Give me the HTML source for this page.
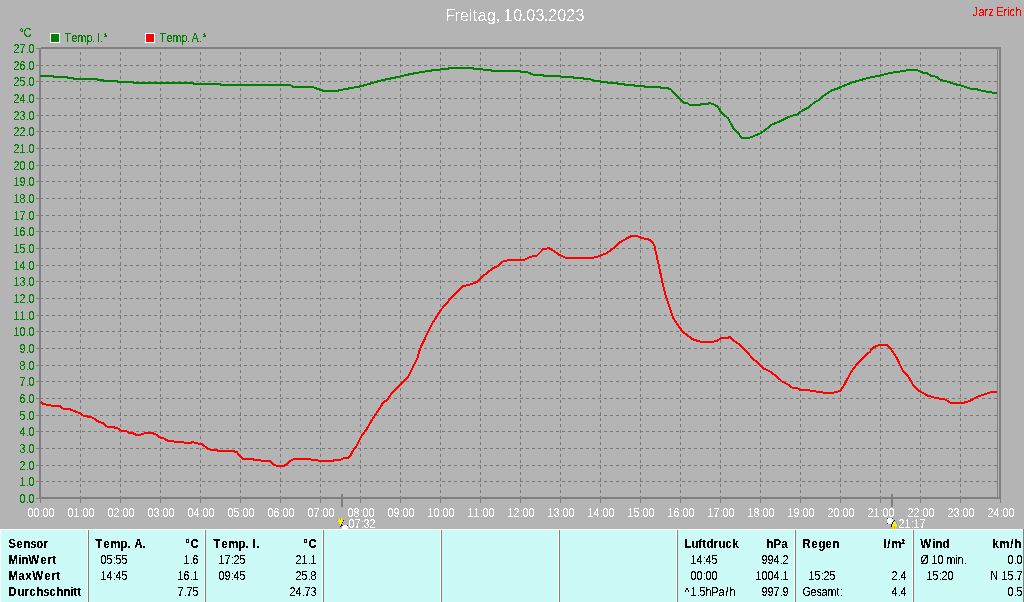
<!DOCTYPE html>
<html lang="de"><head><meta charset="utf-8"><title>Freitag, 10.03.2023</title>
<style>
html,body{margin:0;padding:0;background:#b4b4b4;overflow:hidden}
svg{display:block;position:absolute;left:0;top:0}
text{font-family:"Liberation Sans",sans-serif;font-size:12.5px}
.b{font-weight:bold}
.w{fill:#fff}.g{fill:#008000}.k{fill:#000}.r{fill:#f00}
.e{text-anchor:end}.m{text-anchor:middle}
</style></head><body>
<svg width="1024" height="602" viewBox="0 0 1024 602">
<defs><filter id="na" x="0" y="0" width="100%" height="100%" filterUnits="userSpaceOnUse" primitiveUnits="userSpaceOnUse" color-interpolation-filters="sRGB"><feComponentTransfer><feFuncA type="discrete" tableValues="0 0 1 1 1"/></feComponentTransfer></filter><filter id="nb" x="0" y="0" width="100%" height="100%" filterUnits="userSpaceOnUse" primitiveUnits="userSpaceOnUse" color-interpolation-filters="sRGB"><feComponentTransfer><feFuncA type="discrete" tableValues="0 0 0 0 0 1 1 1 1 1"/></feComponentTransfer></filter></defs>
<rect x="0" y="0" width="1024" height="602" fill="#b4b4b4"/>
<g shape-rendering="crispEdges" stroke="#787878" stroke-width="1" fill="none" stroke-dasharray="3 3">
<line x1="40" y1="481.5" x2="997" y2="481.5"/>
<line x1="40" y1="465.5" x2="997" y2="465.5"/>
<line x1="40" y1="448.5" x2="997" y2="448.5"/>
<line x1="40" y1="431.5" x2="997" y2="431.5"/>
<line x1="40" y1="415.5" x2="997" y2="415.5"/>
<line x1="40" y1="398.5" x2="997" y2="398.5"/>
<line x1="40" y1="381.5" x2="997" y2="381.5"/>
<line x1="40" y1="365.5" x2="997" y2="365.5"/>
<line x1="40" y1="348.5" x2="997" y2="348.5"/>
<line x1="40" y1="331.5" x2="997" y2="331.5"/>
<line x1="40" y1="315.5" x2="997" y2="315.5"/>
<line x1="40" y1="298.5" x2="997" y2="298.5"/>
<line x1="40" y1="281.5" x2="997" y2="281.5"/>
<line x1="40" y1="265.5" x2="997" y2="265.5"/>
<line x1="40" y1="248.5" x2="997" y2="248.5"/>
<line x1="40" y1="231.5" x2="997" y2="231.5"/>
<line x1="40" y1="215.5" x2="997" y2="215.5"/>
<line x1="40" y1="198.5" x2="997" y2="198.5"/>
<line x1="40" y1="181.5" x2="997" y2="181.5"/>
<line x1="40" y1="165.5" x2="997" y2="165.5"/>
<line x1="40" y1="148.5" x2="997" y2="148.5"/>
<line x1="40" y1="131.5" x2="997" y2="131.5"/>
<line x1="40" y1="115.5" x2="997" y2="115.5"/>
<line x1="40" y1="98.5" x2="997" y2="98.5"/>
<line x1="40" y1="81.5" x2="997" y2="81.5"/>
<line x1="40" y1="65.5" x2="997" y2="65.5"/>
<line x1="80.5" y1="49" x2="80.5" y2="497" stroke-dashoffset="3"/>
<line x1="120.5" y1="49" x2="120.5" y2="497" stroke-dashoffset="3"/>
<line x1="160.5" y1="49" x2="160.5" y2="497" stroke-dashoffset="3"/>
<line x1="200.5" y1="49" x2="200.5" y2="497" stroke-dashoffset="3"/>
<line x1="240.5" y1="49" x2="240.5" y2="497" stroke-dashoffset="3"/>
<line x1="280.5" y1="49" x2="280.5" y2="497" stroke-dashoffset="3"/>
<line x1="320.5" y1="49" x2="320.5" y2="497" stroke-dashoffset="3"/>
<line x1="360.5" y1="49" x2="360.5" y2="497" stroke-dashoffset="3"/>
<line x1="400.5" y1="49" x2="400.5" y2="497" stroke-dashoffset="3"/>
<line x1="440.5" y1="49" x2="440.5" y2="497" stroke-dashoffset="3"/>
<line x1="480.5" y1="49" x2="480.5" y2="497" stroke-dashoffset="3"/>
<line x1="520.5" y1="49" x2="520.5" y2="497" stroke-dashoffset="3"/>
<line x1="560.5" y1="49" x2="560.5" y2="497" stroke-dashoffset="3"/>
<line x1="600.5" y1="49" x2="600.5" y2="497" stroke-dashoffset="3"/>
<line x1="640.5" y1="49" x2="640.5" y2="497" stroke-dashoffset="3"/>
<line x1="680.5" y1="49" x2="680.5" y2="497" stroke-dashoffset="3"/>
<line x1="720.5" y1="49" x2="720.5" y2="497" stroke-dashoffset="3"/>
<line x1="760.5" y1="49" x2="760.5" y2="497" stroke-dashoffset="3"/>
<line x1="800.5" y1="49" x2="800.5" y2="497" stroke-dashoffset="3"/>
<line x1="840.5" y1="49" x2="840.5" y2="497" stroke-dashoffset="3"/>
<line x1="880.5" y1="49" x2="880.5" y2="497" stroke-dashoffset="3"/>
<line x1="920.5" y1="49" x2="920.5" y2="497" stroke-dashoffset="3"/>
<line x1="960.5" y1="49" x2="960.5" y2="497" stroke-dashoffset="3"/>
</g>
<g shape-rendering="crispEdges" fill="#808080">
<rect x="41" y="47" width="960" height="2"/>
<rect x="39" y="497" width="962" height="2"/>
<rect x="39" y="48" width="2" height="451"/>
<rect x="999" y="47" width="2" height="452"/>
<rect x="997" y="49" width="1" height="448"/>
<rect x="36" y="498" width="4" height="1"/>
<rect x="36" y="481" width="4" height="1"/>
<rect x="36" y="465" width="4" height="1"/>
<rect x="36" y="448" width="4" height="1"/>
<rect x="36" y="431" width="4" height="1"/>
<rect x="36" y="415" width="4" height="1"/>
<rect x="36" y="398" width="4" height="1"/>
<rect x="36" y="381" width="4" height="1"/>
<rect x="36" y="365" width="4" height="1"/>
<rect x="36" y="348" width="4" height="1"/>
<rect x="36" y="331" width="4" height="1"/>
<rect x="36" y="315" width="4" height="1"/>
<rect x="36" y="298" width="4" height="1"/>
<rect x="36" y="281" width="4" height="1"/>
<rect x="36" y="265" width="4" height="1"/>
<rect x="36" y="248" width="4" height="1"/>
<rect x="36" y="231" width="4" height="1"/>
<rect x="36" y="215" width="4" height="1"/>
<rect x="36" y="198" width="4" height="1"/>
<rect x="36" y="181" width="4" height="1"/>
<rect x="36" y="165" width="4" height="1"/>
<rect x="36" y="148" width="4" height="1"/>
<rect x="36" y="131" width="4" height="1"/>
<rect x="36" y="115" width="4" height="1"/>
<rect x="36" y="98" width="4" height="1"/>
<rect x="36" y="81" width="4" height="1"/>
<rect x="36" y="65" width="4" height="1"/>
<rect x="36" y="48" width="4" height="1"/>
<rect x="40" y="499" width="1" height="4"/>
<rect x="80" y="499" width="1" height="4"/>
<rect x="120" y="499" width="1" height="4"/>
<rect x="160" y="499" width="1" height="4"/>
<rect x="200" y="499" width="1" height="4"/>
<rect x="240" y="499" width="1" height="4"/>
<rect x="280" y="499" width="1" height="4"/>
<rect x="320" y="499" width="1" height="4"/>
<rect x="360" y="499" width="1" height="4"/>
<rect x="400" y="499" width="1" height="4"/>
<rect x="440" y="499" width="1" height="4"/>
<rect x="480" y="499" width="1" height="4"/>
<rect x="520" y="499" width="1" height="4"/>
<rect x="560" y="499" width="1" height="4"/>
<rect x="600" y="499" width="1" height="4"/>
<rect x="640" y="499" width="1" height="4"/>
<rect x="680" y="499" width="1" height="4"/>
<rect x="720" y="499" width="1" height="4"/>
<rect x="760" y="499" width="1" height="4"/>
<rect x="800" y="499" width="1" height="4"/>
<rect x="840" y="499" width="1" height="4"/>
<rect x="880" y="499" width="1" height="4"/>
<rect x="920" y="499" width="1" height="4"/>
<rect x="960" y="499" width="1" height="4"/>
<rect x="1000" y="499" width="1" height="4"/>
<rect x="341" y="494" width="2" height="13"/>
<rect x="891" y="494" width="2" height="13"/>
</g>
<g shape-rendering="crispEdges" fill="none" stroke-width="2" stroke-linejoin="round" stroke-linecap="butt">
<polyline stroke="#008000" points="40,76 53,76 54,77 67,77 68,78 73,78 74,79 97,79 98,80 103,80 104,81 117,81 118,82 133,82 134,83 193,83 194,84 220,84 221,85 290,85 292,86 293,87 313,87 315,88 318,89 321,90 324,91 337,91 340,90 346,89 351,88 357,87 362,86 365,85 369,84 372,83 376,82 379,81 383,80 388,79 393,78 398,77 402,76 406,75 411,74 416,73 422,72 428,71 435,70 445,69 452,68 470,68 477,69 489,70 494,71 520,71 521,72 527,72 529,73 532,74 534,75 543,75 544,76 560,76 562,77 573,77 574,78 583,78 584,79 590,79 592,80 595,81 600,81 601,82 607,82 608,83 617,83 618,84 624,84 625,85 634,85 635,86 644,86 645,87 660,87 661,88 668,88 669,89 670.5,89 675.5,94.4 679.3,98.5 683.5,102.8 687.6,103.2 689.3,104.8 700,104.8 701.7,103.8 708.4,103.7 709.2,103 713.4,104.2 717.5,106.5 721.7,113.1 728.3,118.5 733.3,128.1 738.3,133.4 741.6,137.6 749.9,137.6 753.2,136.4 760.7,133.1 766.5,128.9 771.5,124.8 779.8,121.4 786.5,118.1 790.6,116.1 797.3,114.5 802.2,110.6 808.9,107.3 813.9,102.8 818.9,99.9 823.8,95.7 832.1,90.2 836,89.1 841,86.9 846,84.9 851,82.9 857.6,80.9 863.4,79.3 870.9,77.3 880,75.6 885.8,73.9 894.1,72.3 902.4,71.1 909.1,70.1 917.4,70.1 921.5,72.4 926.5,72.9 930.7,75.6 936.5,76.9 940.7,79.9 949,81.9 953.9,83.9 960.6,85.4 967.2,87.6 971.4,88.9 977.2,89.4 982.2,90.9 988.8,91.9 993.8,92.9 997,93"/>
<polyline stroke="#ff0000" points="40.6,401.6 42.6,403.8 47.6,404.9 53.4,405.9 60,406.3 63.4,408.8 70,409.3 76.7,411.9 80,413.2 83.3,415.6 92.5,417.6 98.3,421.5 103.3,423.2 107.4,426.9 113.2,427.2 118.2,428.5 121.5,430.8 126.5,431.2 129,432.8 133.2,433.2 135.7,434.7 140.7,434.7 144.8,433.2 153.1,433.2 156.4,434.8 159.8,437.3 163.9,438.5 168.1,440.8 173,441.1 174.7,442 183,442.1 184.7,443 190.5,443 192.1,442 196.3,443 202.4,444.5 207.6,448.5 211,449.8 216.8,450 218.4,451 232.5,451 236.7,452.1 242.5,458.8 252.5,458.8 254.1,459.8 260,460 261.6,460.9 269.9,460.9 274.1,464.8 277.4,465.9 284,465.9 287.4,463.9 291.5,460 294.8,458.8 309.8,458.8 311.4,459.8 317.3,460 318.9,460.9 333,460.9 334.7,460 340.5,459.8 342.2,458.8 344.7,458 348,457.8 350.5,455.6 353,450.6 356.3,446.5 358.8,441.5 361.8,435.5 366.8,428.9 372.6,418.9 377.6,411.4 383.4,402.3 386.7,400.3 391.7,393.5 400,385.4 408.3,376.6 412.4,368.3 417.4,358.3 419.9,349.2 422.5,343.5 425.9,336.4 432.5,323.1 440.9,309.8 451.6,297.4 462.4,286.2 469.1,284.9 476.6,282.1 482.4,276.6 492.3,268.6 497.3,266.3 502.3,261.6 509,260 524.7,259.8 528.5,257.8 532.6,256.2 536.8,255.8 543.4,249 549.2,248.2 553.4,250.7 559.2,254.8 565.8,257.8 593.2,257.8 598.2,256.5 606.5,253.2 613.2,248.5 619,242.9 625.6,239.1 631.4,236.1 637.3,236.1 642.2,238.2 648.9,239.6 652.2,241.9 654.2,244.9 657.2,258.2 662.2,281.4 665.6,295 669.3,306.6 673.4,318.3 677.6,324.9 682.5,331.5 688.4,336.2 693.3,339.5 700.8,341.8 712.4,341.8 717.4,340.7 720.7,338.2 727.4,337.9 729.9,336.9 734.9,341.5 740.7,345.3 746.5,351.5 753.1,359 758.1,362.8 763.9,368.6 769.8,371.4 776.4,376.1 782.2,381.7 787.2,383.9 792.2,387.7 797.2,388 799.7,389.7 809.3,390.3 817.5,391.8 824.7,392.8 832.9,392.8 840.1,391 844.2,385.2 850.3,373.3 857.5,363.1 864.7,355.9 869.8,351.8 873.9,347.1 879.1,345.2 887.3,345.2 891.4,349.7 896.5,357.5 902.6,370.2 907.8,375.8 912.9,384.6 919.1,390.8 927.3,395.5 935.5,397.9 945.7,399.6 950.8,402.9 963.1,402.9 969.3,401.2 976.5,397.1 984.7,394.2 990.8,392.2 997,392.2"/>
</g>
<g shape-rendering="crispEdges">
<rect x="50" y="33" width="10" height="10" fill="#fff"/><rect x="51" y="34" width="8" height="8" fill="#008000"/>
<rect x="145" y="33" width="10" height="10" fill="#fff"/><rect x="146" y="34" width="8" height="8" fill="#ff0000"/>
</g>
<g shape-rendering="crispEdges">
<rect x="0" y="529" width="1024" height="73" fill="#ccfaf6"/>
<rect x="0" y="529" width="1023" height="1" fill="#fff"/>
<rect x="0" y="529" width="1" height="73" fill="#fff"/>
<rect x="87" y="529" width="1" height="73" fill="#fff"/><rect x="88" y="530" width="1" height="72" fill="#808080"/>
<rect x="204" y="529" width="1" height="73" fill="#fff"/><rect x="205" y="530" width="1" height="72" fill="#808080"/>
<rect x="322" y="529" width="1" height="73" fill="#fff"/><rect x="323" y="530" width="1" height="72" fill="#808080"/>
<rect x="440" y="529" width="1" height="73" fill="#fff"/><rect x="441" y="530" width="1" height="72" fill="#808080"/>
<rect x="558" y="529" width="1" height="73" fill="#fff"/><rect x="559" y="530" width="1" height="72" fill="#808080"/>
<rect x="676" y="529" width="1" height="73" fill="#fff"/><rect x="677" y="530" width="1" height="72" fill="#808080"/>
<rect x="794" y="529" width="1" height="73" fill="#fff"/><rect x="795" y="530" width="1" height="72" fill="#808080"/>
<rect x="912" y="529" width="1" height="73" fill="#fff"/><rect x="913" y="530" width="1" height="72" fill="#808080"/>
<rect x="1023" y="529" width="1" height="73" fill="#808080"/>
</g>
<g shape-rendering="crispEdges">
<rect x="339" y="518" width="3" height="2" fill="#ffee00"/><rect x="338" y="520" width="5" height="2" fill="#ffee00"/><rect x="339" y="522" width="3" height="2" fill="#ffee00"/><rect x="339" y="524" width="2" height="1" fill="#ffee00"/><rect x="340" y="525" width="1" height="1" fill="#ffee00"/>
<rect x="343" y="520" width="1" height="1" fill="#000"/><rect x="342" y="522" width="1" height="1" fill="#000"/><rect x="341" y="524" width="1" height="1" fill="#000"/><rect x="340" y="526" width="1" height="1" fill="#000"/><rect x="341" y="525" width="1" height="1" fill="#000"/>
<rect x="337" y="520" width="1" height="1" fill="#8c96e6"/><rect x="338" y="522" width="1" height="1" fill="#8c96e6"/><rect x="339" y="524" width="1" height="1" fill="#8c96e6"/><rect x="340" y="518" width="1" height="2" fill="#c8a000"/>
<rect x="342" y="525" width="6" height="4" fill="#fff"/><rect x="342" y="525" width="1" height="1" fill="#2222aa"/><rect x="347" y="525" width="1" height="1" fill="#2222aa"/>
<rect x="888" y="518" width="4" height="6" fill="#fff"/><rect x="887" y="519" width="6" height="4" fill="#fff"/><rect x="887" y="518" width="1" height="1" fill="#2222aa"/><rect x="892" y="518" width="1" height="1" fill="#2222aa"/><rect x="887" y="523" width="1" height="1" fill="#2222aa"/>
<rect x="894" y="521" width="1" height="1" fill="#ffee00"/><rect x="893" y="522" width="3" height="2" fill="#ffee00"/><rect x="892" y="524" width="5" height="3" fill="#ffee00"/><rect x="893" y="527" width="3" height="2" fill="#ffee00"/>
<rect x="894" y="520" width="1" height="1" fill="#000"/><rect x="893" y="521" width="1" height="1" fill="#000"/><rect x="892" y="522" width="1" height="2" fill="#000"/><rect x="891" y="524" width="1" height="3" fill="#000"/>
<rect x="895" y="521" width="1" height="1" fill="#8c96e6"/><rect x="896" y="522" width="1" height="2" fill="#8c96e6"/><rect x="897" y="524" width="1" height="2" fill="#8c96e6"/><rect x="894" y="526" width="1" height="3" fill="#c8a000"/>
</g>
<g filter="url(#nb)"><text transform="translate(0,21) scale(0.94,1)" x="473.94 483.51 489.36 498.40 502.66 508.24 518.35 527.39 531.91 535.64 546.01 555.05 559.84 569.68 578.46 583.24 592.82 602.39 612.23" y="0" class="w" style="font-size:17px">Freitag, 10.03.2023</text></g>
<g filter="url(#na)">
<text transform="translate(972.5,16) scale(0.86,1)" x="0.00 6.98 13.95 18.60 24.42 27.91 36.05 40.70 43.02 50.00" y="0" class="r">Jarz Erich</text>
<text transform="translate(19.5,37) scale(0.86,1)" x="0.00 4.65" y="0" class="g">°C</text>
<text transform="translate(64.5,42) scale(0.86,1)" x="0.00 8.14 15.12 25.58 31.69 36.05 37.50 40.99 45.35" y="0" class="g">Temp. I.*</text>
<text transform="translate(159.5,42) scale(0.86,1)" x="0.00 8.14 15.12 25.58 31.69 36.05 37.21 45.64 50.00" y="0" class="g">Temp. A.*</text>
<text transform="translate(19.5,503) scale(0.86,1)" x="0.00 7.27 10.47" y="0" class="g">0.0</text>
<text transform="translate(19.5,486) scale(0.86,1)" x="0.00 7.27 10.47" y="0" class="g">1.0</text>
<text transform="translate(19.5,470) scale(0.86,1)" x="0.00 7.27 10.47" y="0" class="g">2.0</text>
<text transform="translate(19.5,453) scale(0.86,1)" x="0.00 7.27 10.47" y="0" class="g">3.0</text>
<text transform="translate(19.5,436) scale(0.86,1)" x="0.00 7.27 10.47" y="0" class="g">4.0</text>
<text transform="translate(19.5,420) scale(0.86,1)" x="0.00 7.27 10.47" y="0" class="g">5.0</text>
<text transform="translate(19.5,403) scale(0.86,1)" x="0.00 7.27 10.47" y="0" class="g">6.0</text>
<text transform="translate(19.5,386) scale(0.86,1)" x="0.00 7.27 10.47" y="0" class="g">7.0</text>
<text transform="translate(19.5,370) scale(0.86,1)" x="0.00 7.27 10.47" y="0" class="g">8.0</text>
<text transform="translate(19.5,353) scale(0.86,1)" x="0.00 7.27 10.47" y="0" class="g">9.0</text>
<text transform="translate(13.5,336) scale(0.86,1)" x="0.00 6.98 14.24 17.44" y="0" class="g">10.0</text>
<text transform="translate(13.5,320) scale(0.86,1)" x="0.00 6.98 14.24 17.44" y="0" class="g">11.0</text>
<text transform="translate(13.5,303) scale(0.86,1)" x="0.00 6.98 14.24 17.44" y="0" class="g">12.0</text>
<text transform="translate(13.5,286) scale(0.86,1)" x="0.00 6.98 14.24 17.44" y="0" class="g">13.0</text>
<text transform="translate(13.5,270) scale(0.86,1)" x="0.00 6.98 14.24 17.44" y="0" class="g">14.0</text>
<text transform="translate(13.5,253) scale(0.86,1)" x="0.00 6.98 14.24 17.44" y="0" class="g">15.0</text>
<text transform="translate(13.5,236) scale(0.86,1)" x="0.00 6.98 14.24 17.44" y="0" class="g">16.0</text>
<text transform="translate(13.5,220) scale(0.86,1)" x="0.00 6.98 14.24 17.44" y="0" class="g">17.0</text>
<text transform="translate(13.5,203) scale(0.86,1)" x="0.00 6.98 14.24 17.44" y="0" class="g">18.0</text>
<text transform="translate(13.5,186) scale(0.86,1)" x="0.00 6.98 14.24 17.44" y="0" class="g">19.0</text>
<text transform="translate(13.5,170) scale(0.86,1)" x="0.00 6.98 14.24 17.44" y="0" class="g">20.0</text>
<text transform="translate(13.5,153) scale(0.86,1)" x="0.00 6.98 14.24 17.44" y="0" class="g">21.0</text>
<text transform="translate(13.5,136) scale(0.86,1)" x="0.00 6.98 14.24 17.44" y="0" class="g">22.0</text>
<text transform="translate(13.5,120) scale(0.86,1)" x="0.00 6.98 14.24 17.44" y="0" class="g">23.0</text>
<text transform="translate(13.5,103) scale(0.86,1)" x="0.00 6.98 14.24 17.44" y="0" class="g">24.0</text>
<text transform="translate(13.5,86) scale(0.86,1)" x="0.00 6.98 14.24 17.44" y="0" class="g">25.0</text>
<text transform="translate(13.5,70) scale(0.86,1)" x="0.00 6.98 14.24 17.44" y="0" class="g">26.0</text>
<text transform="translate(13.5,53) scale(0.86,1)" x="0.00 6.98 14.24 17.44" y="0" class="g">27.0</text>
<text transform="translate(27.5,517) scale(0.86,1)" x="0.00 6.98 14.24 17.44 24.42" y="0" class="w">00:00</text>
<text transform="translate(67.5,517) scale(0.86,1)" x="0.00 6.98 14.24 17.44 24.42" y="0" class="w">01:00</text>
<text transform="translate(107.5,517) scale(0.86,1)" x="0.00 6.98 14.24 17.44 24.42" y="0" class="w">02:00</text>
<text transform="translate(147.5,517) scale(0.86,1)" x="0.00 6.98 14.24 17.44 24.42" y="0" class="w">03:00</text>
<text transform="translate(187.5,517) scale(0.86,1)" x="0.00 6.98 14.24 17.44 24.42" y="0" class="w">04:00</text>
<text transform="translate(227.5,517) scale(0.86,1)" x="0.00 6.98 14.24 17.44 24.42" y="0" class="w">05:00</text>
<text transform="translate(267.5,517) scale(0.86,1)" x="0.00 6.98 14.24 17.44 24.42" y="0" class="w">06:00</text>
<text transform="translate(307.5,517) scale(0.86,1)" x="0.00 6.98 14.24 17.44 24.42" y="0" class="w">07:00</text>
<text transform="translate(347.5,517) scale(0.86,1)" x="0.00 6.98 14.24 17.44 24.42" y="0" class="w">08:00</text>
<text transform="translate(387.5,517) scale(0.86,1)" x="0.00 6.98 14.24 17.44 24.42" y="0" class="w">09:00</text>
<text transform="translate(427.5,517) scale(0.86,1)" x="0.00 6.98 14.24 17.44 24.42" y="0" class="w">10:00</text>
<text transform="translate(467.5,517) scale(0.86,1)" x="0.00 6.98 14.24 17.44 24.42" y="0" class="w">11:00</text>
<text transform="translate(507.5,517) scale(0.86,1)" x="0.00 6.98 14.24 17.44 24.42" y="0" class="w">12:00</text>
<text transform="translate(547.5,517) scale(0.86,1)" x="0.00 6.98 14.24 17.44 24.42" y="0" class="w">13:00</text>
<text transform="translate(587.5,517) scale(0.86,1)" x="0.00 6.98 14.24 17.44 24.42" y="0" class="w">14:00</text>
<text transform="translate(627.5,517) scale(0.86,1)" x="0.00 6.98 14.24 17.44 24.42" y="0" class="w">15:00</text>
<text transform="translate(667.5,517) scale(0.86,1)" x="0.00 6.98 14.24 17.44 24.42" y="0" class="w">16:00</text>
<text transform="translate(707.5,517) scale(0.86,1)" x="0.00 6.98 14.24 17.44 24.42" y="0" class="w">17:00</text>
<text transform="translate(747.5,517) scale(0.86,1)" x="0.00 6.98 14.24 17.44 24.42" y="0" class="w">18:00</text>
<text transform="translate(787.5,517) scale(0.86,1)" x="0.00 6.98 14.24 17.44 24.42" y="0" class="w">19:00</text>
<text transform="translate(827.5,517) scale(0.86,1)" x="0.00 6.98 14.24 17.44 24.42" y="0" class="w">20:00</text>
<text transform="translate(867.5,517) scale(0.86,1)" x="0.00 6.98 14.24 17.44 24.42" y="0" class="w">21:00</text>
<text transform="translate(907.5,517) scale(0.86,1)" x="0.00 6.98 14.24 17.44 24.42" y="0" class="w">22:00</text>
<text transform="translate(947.5,517) scale(0.86,1)" x="0.00 6.98 14.24 17.44 24.42" y="0" class="w">23:00</text>
<text transform="translate(987.5,517) scale(0.86,1)" x="0.00 6.98 14.24 17.44 24.42" y="0" class="w">24:00</text>
<text transform="translate(348.5,528) scale(0.86,1)" x="0.00 6.98 14.24 17.44 24.42" y="0" class="w">07:32</text>
<text transform="translate(898.5,528) scale(0.86,1)" x="0.00 6.98 14.24 17.44 24.42" y="0" class="w">21:17</text>
<text transform="translate(8.25,548) scale(0.93,1)" x="0.00 8.60 16.13 23.66 30.11 37.63" y="0" class="k b">Sensor</text>
<text transform="translate(8.25,564) scale(0.93,1)" x="0.00 10.75 13.98 21.51 34.41 41.94 47.31" y="0" class="k b">MinWert</text>
<text transform="translate(8.25,580) scale(0.93,1)" x="0.00 10.75 18.28 25.81 38.71 46.24 51.61" y="0" class="k b">MaxWert</text>
<text transform="translate(8.25,596) scale(0.93,1)" x="0.00 9.68 17.20 22.58 30.11 37.63 44.09 51.61 59.14 66.67 69.89 74.19" y="0" class="k b">Durchschnitt</text>
<text transform="translate(95.25,548) scale(0.93,1)" x="0.00 8.60 16.13 26.88 34.41 38.71 41.94 50.54" y="0" class="k b">Temp. A.</text>
<text transform="translate(185.25,548) scale(0.93,1)" x="0.00 5.38" y="0" class="k b">°C</text>
<text transform="translate(100.5,564) scale(0.86,1)" x="0.00 6.98 14.24 17.44 24.42" y="0" class="k">05:55</text>
<text transform="translate(183.5,564) scale(0.86,1)" x="0.00 7.27 10.47" y="0" class="k">1.6</text>
<text transform="translate(100.5,580) scale(0.86,1)" x="0.00 6.98 14.24 17.44 24.42" y="0" class="k">14:45</text>
<text transform="translate(177.5,580) scale(0.86,1)" x="0.00 6.98 14.24 17.44" y="0" class="k">16.1</text>
<text transform="translate(177.5,596) scale(0.86,1)" x="0.00 7.27 10.47 17.44" y="0" class="k">7.75</text>
<text transform="translate(213.25,548) scale(0.93,1)" x="0.00 8.60 16.13 26.88 34.41 38.71 41.94 46.24" y="0" class="k b">Temp. I.</text>
<text transform="translate(303.25,548) scale(0.93,1)" x="0.00 5.38" y="0" class="k b">°C</text>
<text transform="translate(218.5,564) scale(0.86,1)" x="0.00 6.98 14.24 17.44 24.42" y="0" class="k">17:25</text>
<text transform="translate(295.5,564) scale(0.86,1)" x="0.00 6.98 14.24 17.44" y="0" class="k">21.1</text>
<text transform="translate(218.5,580) scale(0.86,1)" x="0.00 6.98 14.24 17.44 24.42" y="0" class="k">09:45</text>
<text transform="translate(295.5,580) scale(0.86,1)" x="0.00 6.98 14.24 17.44" y="0" class="k">25.8</text>
<text transform="translate(289.5,596) scale(0.86,1)" x="0.00 6.98 14.24 17.44 24.42" y="0" class="k">24.73</text>
<text transform="translate(684.25,548) scale(0.93,1)" x="0.00 7.53 15.05 19.35 23.66 31.18 36.56 44.09 51.61" y="0" class="k b">Luftdruck</text>
<text transform="translate(766.25,548) scale(0.93,1)" x="0.00 7.53 16.13" y="0" class="k b">hPa</text>
<text transform="translate(690.5,564) scale(0.86,1)" x="0.00 6.98 14.24 17.44 24.42" y="0" class="k">14:45</text>
<text transform="translate(761.5,564) scale(0.86,1)" x="0.00 6.98 13.95 21.22 24.42" y="0" class="k">994.2</text>
<text transform="translate(690.5,580) scale(0.86,1)" x="0.00 6.98 14.24 17.44 24.42" y="0" class="k">00:00</text>
<text transform="translate(755.5,580) scale(0.86,1)" x="0.00 6.98 13.95 20.93 28.20 31.40" y="0" class="k">1004.1</text>
<text transform="translate(684.5,596) scale(0.86,1)" x="0.00 6.98 14.24 17.44 24.42 31.40 39.53 47.67 52.33" y="0" class="k">^1.5hPa/h</text>
<text transform="translate(761.5,596) scale(0.86,1)" x="0.00 6.98 13.95 21.22 24.42" y="0" class="k">997.9</text>
<text transform="translate(802.25,548) scale(0.93,1)" x="0.00 9.68 17.20 24.73 32.26" y="0" class="k b">Regen</text>
<text transform="translate(883.25,548) scale(0.93,1)" x="0.00 4.30 8.60 19.35" y="0" class="k b">l/m²</text>
<text transform="translate(808.5,580) scale(0.86,1)" x="0.00 6.98 14.24 17.44 24.42" y="0" class="k">15:25</text>
<text transform="translate(891.5,580) scale(0.86,1)" x="0.00 7.27 10.47" y="0" class="k">2.4</text>
<text transform="translate(802.5,596) scale(0.86,1)" x="0.00 9.30 16.28 22.09 29.07 39.53 43.31" y="0" class="k">Gesamt:</text>
<text transform="translate(891.5,596) scale(0.86,1)" x="0.00 7.27 10.47" y="0" class="k">4.4</text>
<text transform="translate(920.25,548) scale(0.93,1)" x="0.00 12.90 16.13 23.66" y="0" class="k b">Wind</text>
<text transform="translate(992.25,548) scale(0.93,1)" x="0.00 7.53 19.35 23.66" y="0" class="k b">km/h</text>
<text transform="translate(920.5,564) scale(0.86,1)" x="0.00 9.30 12.79 19.77 26.74 30.23 40.70 43.02 50.29" y="0" class="k">Ø 10 min.</text>
<text transform="translate(1007.5,564) scale(0.86,1)" x="0.00 7.27 10.47" y="0" class="k">0.0</text>
<text transform="translate(926.5,580) scale(0.86,1)" x="0.00 6.98 14.24 17.44 24.42" y="0" class="k">15:20</text>
<text transform="translate(990.5,580) scale(0.86,1)" x="0.00 9.30 12.79 19.77 27.03 30.23" y="0" class="k">N 15.7</text>
<text transform="translate(1007.5,596) scale(0.86,1)" x="0.00 7.27 10.47" y="0" class="k">0.5</text>
</g>
</svg>
</body></html>
